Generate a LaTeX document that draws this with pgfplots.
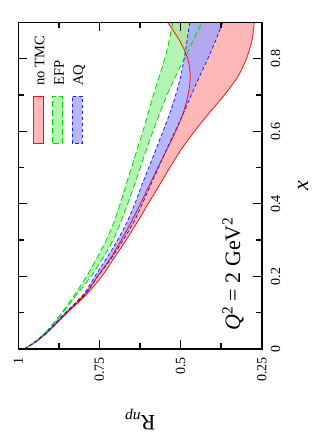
\documentclass[border=0pt]{standalone}
\usepackage{fontspec}
\setmainfont{Liberation Serif}
\usepackage{pgfplots}
\usepackage{pgfplotstable}
\pgfplotsset{compat=1.18}
\usepgfplotslibrary{fillbetween}

\pgfplotstableread{
x R
0 0.982
0.02 0.945
0.05 0.905
0.10 0.849
0.15 0.790
0.20 0.743
0.25 0.705
0.30 0.668
0.35 0.633
0.40 0.600
0.45 0.566
0.50 0.533
0.55 0.498
0.60 0.457
0.65 0.412
0.70 0.365
0.75 0.324
0.80 0.297
0.85 0.280
0.90 0.273
}\redlo
\pgfplotstableread{
x R
0 0.982
0.02 0.947
0.05 0.908
0.10 0.853
0.15 0.796
0.20 0.756
0.25 0.716
0.30 0.683
0.35 0.652
0.40 0.624
0.45 0.597
0.50 0.570
0.55 0.542
0.60 0.515
0.65 0.492
0.70 0.477
0.75 0.470
0.80 0.478
0.85 0.503
0.90 0.540
}\redhi
\pgfplotstableread{
x R
0 0.982
0.02 0.946
0.05 0.906
0.10 0.852
0.15 0.794
0.20 0.755
0.25 0.713
0.30 0.677
0.35 0.644
0.40 0.618
0.45 0.593
0.50 0.568
0.55 0.543
0.60 0.517
0.65 0.491
0.70 0.467
0.75 0.442
0.80 0.416
0.85 0.392
0.90 0.370
}\bluelo
\pgfplotstableread{
x R
0 0.982
0.02 0.948
0.05 0.909
0.10 0.855
0.15 0.800
0.20 0.764
0.25 0.728
0.30 0.694
0.35 0.665
0.40 0.641
0.45 0.620
0.50 0.598
0.55 0.576
0.60 0.554
0.65 0.533
0.70 0.515
0.75 0.500
0.80 0.489
0.85 0.480
0.90 0.472
}\bluehi
\pgfplotstableread{
x R
0 0.982
0.02 0.947
0.05 0.910
0.10 0.863
0.15 0.820
0.20 0.776
0.25 0.740
0.30 0.708
0.35 0.684
0.40 0.663
0.45 0.643
0.50 0.624
0.55 0.605
0.60 0.585
0.65 0.564
0.70 0.542
0.75 0.516
0.80 0.488
0.85 0.461
0.90 0.434
}\greenlo
\pgfplotstableread{
x R
0 0.982
0.02 0.948
0.05 0.912
0.10 0.866
0.15 0.826
0.20 0.790
0.25 0.758
0.30 0.729
0.35 0.705
0.40 0.686
0.45 0.669
0.50 0.651
0.55 0.634
0.60 0.616
0.65 0.600
0.70 0.584
0.75 0.566
0.80 0.549
0.85 0.535
0.90 0.524
}\greenhi

\definecolor{cred}{RGB}{245,20,20}
\definecolor{cgreen}{RGB}{0,220,0}
\definecolor{cblue}{RGB}{30,30,235}
\definecolor{fred}{RGB}{255,170,170}
\definecolor{fgreen}{RGB}{160,240,160}
\definecolor{fblue}{RGB}{165,165,255}
\definecolor{lred}{RGB}{255,183,183}
\definecolor{lgreen}{RGB}{179,243,179}
\definecolor{lblue}{RGB}{183,183,255}

\begin{document}
\begin{tikzpicture}
\begin{axis}[
  scale only axis, width=243.4pt, height=326.6pt,
  xmin=0.25, xmax=1, x dir=reverse,
  ymin=0, ymax=0.9,
  xtick={0.25,0.5,0.75,1}, minor xtick={0.375,0.625,0.875},
  ytick={0,0.2,0.4,0.6,0.8}, minor ytick={0.1,0.3,0.5,0.7},
  tick align=inside,
  yticklabel pos=right,
  major tick length=9pt, minor tick length=6pt,
  every tick/.style={black, line width=1.3pt},
  axis line style={line width=1.6pt},
  axis on top,
  /pgf/number format/assume math mode=true,
  tick label style={font=\fontsize{14}{16}\selectfont},
  xticklabel style={yshift=-7pt, rotate=90, anchor=east, inner sep=1pt},
  yticklabel style={xshift=8pt, rotate=90, anchor=north, inner sep=1pt},
  xlabel={R\textsubscript{\textit{np}}},
  xlabel style={at={(axis description cs:0.5,-0.215)}, anchor=center, rotate=180, font=\fontsize{22}{24}\selectfont},
  ylabel={\textit{x}},
  ylabel style={at={(axis description cs:1.17,0.5)}, anchor=center, rotate=0, font=\fontsize{22}{24}\selectfont},
]
\addplot[name path=rlo, draw=none, smooth, forget plot] table[x=R,y=x]{\redlo};
\addplot[name path=rhi, draw=none, smooth, forget plot] table[x=R,y=x]{\redhi};
\addplot[name path=glo, draw=none, smooth, forget plot] table[x=R,y=x]{\greenlo};
\addplot[name path=ghi, draw=none, smooth, forget plot] table[x=R,y=x]{\greenhi};
\addplot[name path=blo, draw=none, smooth, forget plot] table[x=R,y=x]{\bluelo};
\addplot[name path=bhi, draw=none, smooth, forget plot] table[x=R,y=x]{\bluehi};

\addplot[fill=fred, fill opacity=0.85, draw=none, forget plot] fill between[of=rlo and rhi];
\addplot[fill=fgreen, fill opacity=0.8, draw=none, forget plot] fill between[of=glo and ghi];
\addplot[fill=fblue, fill opacity=0.8, draw=none, forget plot] fill between[of=blo and bhi];

\addplot[cred, line width=0.8pt, smooth, forget plot] table[x=R,y=x]{\redlo};
\addplot[cred, line width=0.8pt, smooth, forget plot] table[x=R,y=x]{\redhi};
\addplot[cgreen, line width=0.8pt, dash pattern=on 6pt off 3pt, smooth, forget plot] table[x=R,y=x]{\greenlo};
\addplot[cgreen, line width=0.8pt, dash pattern=on 6pt off 3pt, smooth, forget plot] table[x=R,y=x]{\greenhi};
\addplot[cblue, line width=0.8pt, dash pattern=on 3.5pt off 2.5pt, smooth, forget plot] table[x=R,y=x]{\bluelo};
\addplot[cblue, line width=0.8pt, dash pattern=on 3.5pt off 2.5pt, smooth, forget plot] table[x=R,y=x]{\bluehi};

% legend (drawn rotated, like the reference)
\draw[cred, line width=0.8pt, fill=lred] (axis description cs:0.0620,0.6298) rectangle (axis description cs:0.1031,0.7747);
\draw[cgreen, line width=0.8pt, dash pattern=on 6pt off 3pt, fill=lgreen] (axis description cs:0.1417,0.6298) rectangle (axis description cs:0.1828,0.7747);
\draw[cblue, line width=0.8pt, dash pattern=on 3.5pt off 2.5pt, fill=lblue] (axis description cs:0.2219,0.6298) rectangle (axis description cs:0.2629,0.7747);
\node[rotate=90, anchor=base west, inner sep=0pt, font=\fontsize{14.5}{16}\selectfont] at (axis description cs:0.1076,0.8053) {no TMC};
\node[rotate=90, anchor=base west, inner sep=0pt, font=\fontsize{14.5}{16}\selectfont] at (axis description cs:0.1869,0.8053) {EFP};
\node[rotate=90, anchor=base west, inner sep=0pt, font=\fontsize{14.5}{16}\selectfont] at (axis description cs:0.2658,0.8053) {AQ};

\node[rotate=90, font=\fontsize{22}{24}\selectfont] at (axis description cs:0.882,0.230) {\textit{Q}\textsuperscript{2} = 2 GeV\textsuperscript{2}};
\coordinate (bbll) at (axis description cs:-0.0752,-0.2878);
\coordinate (bbur) at (axis description cs:1.2025,1.0686);
\end{axis}
\path (bbll) rectangle (bbur);
\end{tikzpicture}
\end{document}
